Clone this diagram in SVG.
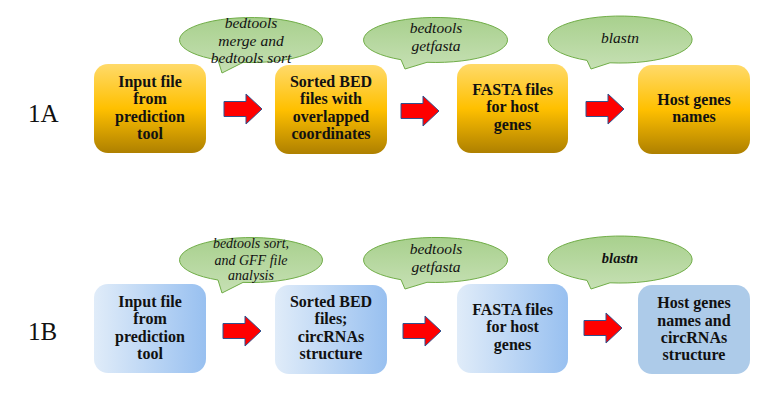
<svg xmlns="http://www.w3.org/2000/svg" width="775" height="406" viewBox="0 0 775 406">
<defs>
<linearGradient id="gold" x1="0" y1="0" x2="0" y2="1">
<stop offset="0" stop-color="#FFDA6A"/>
<stop offset="0.5" stop-color="#FFC000"/>
<stop offset="1" stop-color="#AE8000"/>
</linearGradient>
<linearGradient id="blue" x1="0" y1="0" x2="1" y2="0">
<stop offset="0" stop-color="#E0ECF9"/>
<stop offset="1" stop-color="#98C0F0"/>
</linearGradient>
<linearGradient id="green" x1="0" y1="0" x2="0" y2="1">
<stop offset="0" stop-color="#A8D08D"/>
<stop offset="1" stop-color="#C6E0B4"/>
</linearGradient>
</defs>
<style>
.a{fill:url(#gold)}
.b{fill:url(#blue)}
.bs{fill:#ADCBE9}
.co{fill:url(#green);stroke:#70AD47;stroke-width:1}
.arrow{fill:#FF0000;stroke:#2F528F;stroke-width:1}
</style>

<text x="28" y="122" font-family="Liberation Serif" font-size="25" fill="#111">1A</text>
<text x="28" y="340" font-family="Liberation Serif" font-size="25" fill="#111">1B</text>

<g id="callout-a1">
<path class="co" d="M218 60 A71.5 22.5 0 1 1 243 62.4 L222 73 Z"/>
<text x="251" y="28" font-family="Liberation Serif" font-style="italic" font-size="15.5" text-anchor="middle" fill="#111">bedtools</text>
<text x="251" y="46" font-family="Liberation Serif" font-style="italic" font-size="15.5" text-anchor="middle" fill="#111">merge and</text>
<text x="251" y="63" font-family="Liberation Serif" font-style="italic" font-size="15.5" text-anchor="middle" fill="#111">bedtools sort</text>
</g>
<g id="callout-a2">
<path class="co" d="M401 59.7 A72 22.5 0 1 1 427 62.3 L405 69 Z"/>
<text x="436" y="33" font-family="Liberation Serif" font-style="italic" font-size="15.5" text-anchor="middle" fill="#111">bedtools</text>
<text x="436" y="51" font-family="Liberation Serif" font-style="italic" font-size="15.5" text-anchor="middle" fill="#111">getfasta</text>
</g>
<g id="callout-a3">
<path class="co" d="M587 60.4 A72 23.5 0 1 1 610 62.8 L591 69 Z"/>
<text x="620" y="43" font-family="Liberation Serif" font-style="italic" font-size="15.5" text-anchor="middle" fill="#111">blastn</text>
</g>

<g id="callout-b1">
<path class="co" d="M218 280 A71.5 22.5 0 1 1 243 282.4 L222 293 Z"/>
<text x="251" y="248" font-family="Liberation Serif" font-style="italic" font-size="14" text-anchor="middle" fill="#111">bedtools sort,</text>
<text x="251" y="265" font-family="Liberation Serif" font-style="italic" font-size="14" text-anchor="middle" fill="#111">and GFF file</text>
<text x="251" y="280" font-family="Liberation Serif" font-style="italic" font-size="14" text-anchor="middle" fill="#111">analysis</text>
</g>
<g id="callout-b2">
<path class="co" d="M401 279.7 A72 22.5 0 1 1 427 282.3 L405 289 Z"/>
<text x="436" y="254" font-family="Liberation Serif" font-style="italic" font-size="15.5" text-anchor="middle" fill="#111">bedtools</text>
<text x="436" y="272" font-family="Liberation Serif" font-style="italic" font-size="15.5" text-anchor="middle" fill="#111">getfasta</text>
</g>
<g id="callout-b3">
<path class="co" d="M587 280.4 A72 23.5 0 1 1 610 282.8 L591 289 Z"/>
<text x="620" y="263" font-family="Liberation Serif" font-style="italic" font-weight="bold" font-size="14.5" text-anchor="middle" fill="#111">blastn</text>
</g>

<g id="a1">
<rect class="a" x="94" y="64" width="112" height="89" rx="14"/>
<text x="150" y="87" font-family="Liberation Serif" font-weight="bold" font-size="16" text-anchor="middle" fill="#111">Input file</text>
<text x="150" y="104" font-family="Liberation Serif" font-weight="bold" font-size="16" text-anchor="middle" fill="#111">from</text>
<text x="150" y="122" font-family="Liberation Serif" font-weight="bold" font-size="16" text-anchor="middle" fill="#111">prediction</text>
<text x="150" y="139" font-family="Liberation Serif" font-weight="bold" font-size="16" text-anchor="middle" fill="#111">tool</text>
</g>
<g id="a2">
<rect class="a" x="275" y="65" width="112" height="89" rx="14"/>
<text x="331" y="87" font-family="Liberation Serif" font-weight="bold" font-size="16" text-anchor="middle" fill="#111">Sorted BED</text>
<text x="331" y="104" font-family="Liberation Serif" font-weight="bold" font-size="16" text-anchor="middle" fill="#111">files with</text>
<text x="331" y="122" font-family="Liberation Serif" font-weight="bold" font-size="16" text-anchor="middle" fill="#111">overlapped</text>
<text x="331" y="139" font-family="Liberation Serif" font-weight="bold" font-size="16" text-anchor="middle" fill="#111">coordinates</text>
</g>
<g id="a3">
<rect class="a" x="457" y="64" width="111" height="89" rx="14"/>
<text x="512.5" y="95" font-family="Liberation Serif" font-weight="bold" font-size="16" text-anchor="middle" fill="#111">FASTA files</text>
<text x="512.5" y="112" font-family="Liberation Serif" font-weight="bold" font-size="16" text-anchor="middle" fill="#111">for host</text>
<text x="512.5" y="130" font-family="Liberation Serif" font-weight="bold" font-size="16" text-anchor="middle" fill="#111">genes</text>
</g>
<g id="a4">
<rect class="a" x="638" y="65" width="112" height="89" rx="14"/>
<text x="694" y="105" font-family="Liberation Serif" font-weight="bold" font-size="16" text-anchor="middle" fill="#111">Host genes</text>
<text x="694" y="122" font-family="Liberation Serif" font-weight="bold" font-size="16" text-anchor="middle" fill="#111">names</text>
</g>

<g id="b1">
<rect class="b" x="94" y="284" width="112" height="89" rx="14"/>
<text x="150" y="307" font-family="Liberation Serif" font-weight="bold" font-size="16" text-anchor="middle" fill="#111">Input file</text>
<text x="150" y="324" font-family="Liberation Serif" font-weight="bold" font-size="16" text-anchor="middle" fill="#111">from</text>
<text x="150" y="342" font-family="Liberation Serif" font-weight="bold" font-size="16" text-anchor="middle" fill="#111">prediction</text>
<text x="150" y="359" font-family="Liberation Serif" font-weight="bold" font-size="16" text-anchor="middle" fill="#111">tool</text>
</g>
<g id="b2">
<rect class="b" x="275" y="285" width="112" height="89" rx="14"/>
<text x="331" y="307" font-family="Liberation Serif" font-weight="bold" font-size="16" text-anchor="middle" fill="#111">Sorted BED</text>
<text x="331" y="324" font-family="Liberation Serif" font-weight="bold" font-size="16" text-anchor="middle" fill="#111">files;</text>
<text x="331" y="342" font-family="Liberation Serif" font-weight="bold" font-size="16" text-anchor="middle" fill="#111">circRNAs</text>
<text x="331" y="359" font-family="Liberation Serif" font-weight="bold" font-size="16" text-anchor="middle" fill="#111">structure</text>
</g>
<g id="b3">
<rect class="b" x="457" y="284" width="111" height="89" rx="14"/>
<text x="512.5" y="315" font-family="Liberation Serif" font-weight="bold" font-size="16" text-anchor="middle" fill="#111">FASTA files</text>
<text x="512.5" y="332" font-family="Liberation Serif" font-weight="bold" font-size="16" text-anchor="middle" fill="#111">for host</text>
<text x="512.5" y="350" font-family="Liberation Serif" font-weight="bold" font-size="16" text-anchor="middle" fill="#111">genes</text>
</g>
<g id="b4">
<rect class="bs" x="638" y="285" width="112" height="89" rx="14"/>
<text x="694" y="308" font-family="Liberation Serif" font-weight="bold" font-size="16" text-anchor="middle" fill="#111">Host genes</text>
<text x="694" y="326" font-family="Liberation Serif" font-weight="bold" font-size="16" text-anchor="middle" fill="#111">names and</text>
<text x="694" y="343" font-family="Liberation Serif" font-weight="bold" font-size="16" text-anchor="middle" fill="#111">circRNAs</text>
<text x="694" y="360" font-family="Liberation Serif" font-weight="bold" font-size="16" text-anchor="middle" fill="#111">structure</text>
</g>

<g id="connectors">
<polygon class="arrow" transform="translate(224 109)" points="0,-7.5 22,-7.5 22,-15 38,0 22,15 22,7.5 0,7.5"/>
<polygon class="arrow" transform="translate(401 111)" points="0,-7.5 22,-7.5 22,-15 38,0 22,15 22,7.5 0,7.5"/>
<polygon class="arrow" transform="translate(586 109)" points="0,-7.5 22,-7.5 22,-15 38,0 22,15 22,7.5 0,7.5"/>
<polygon class="arrow" transform="translate(223 331)" points="0,-7.5 22,-7.5 22,-15 38,0 22,15 22,7.5 0,7.5"/>
<polygon class="arrow" transform="translate(403 331)" points="0,-7.5 22,-7.5 22,-15 38,0 22,15 22,7.5 0,7.5"/>
<polygon class="arrow" transform="translate(584 328)" points="0,-7.5 22,-7.5 22,-15 38,0 22,15 22,7.5 0,7.5"/>
</g>
</svg>
